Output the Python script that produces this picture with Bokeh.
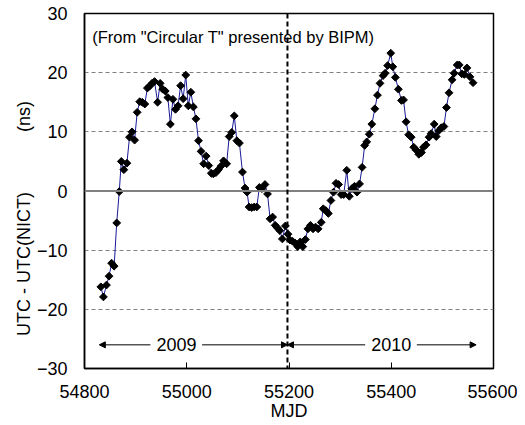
from bokeh.plotting import figure
from bokeh.models import Range1d, Span, Arrow, NormalHead, Label, FixedTicker
from bokeh.embed import file_html
from bokeh.resources import INLINE

# ---- data ----
mjd = [54832, 54837, 54843, 54848, 54853, 54858, 54863, 54868, 54872, 54877,
       54883, 54888, 54893, 54898, 54903, 54908, 54913, 54918, 54923, 54927,
       54932, 54937, 54943, 54948, 54953, 54958, 54963, 54968, 54973, 54978,
       54983, 54988, 54993, 54998, 55003, 55008, 55013, 55018, 55023, 55028,
       55033, 55038, 55043, 55048, 55052, 55057, 55062, 55067, 55072, 55078,
       55083, 55088, 55093, 55098, 55103, 55109, 55114, 55118, 55122, 55127,
       55132, 55137, 55142, 55147, 55153, 55158, 55163, 55168, 55173, 55177,
       55182, 55187, 55193, 55198, 55202, 55207, 55212, 55217, 55222, 55227,
       55232, 55237, 55242, 55247, 55252, 55257, 55263, 55267, 55272, 55277,
       55282, 55287, 55292, 55297, 55302, 55307, 55313, 55318, 55323, 55328,
       55333, 55338, 55343, 55348, 55352, 55357, 55362, 55368, 55373, 55378,
       55384, 55388, 55393, 55399, 55403, 55408, 55414, 55420, 55424, 55429,
       55434, 55439, 55444, 55449, 55454, 55459, 55463, 55468, 55474, 55478,
       55484, 55488, 55493, 55498, 55503, 55508, 55513, 55519, 55523, 55529,
       55533, 55538, 55543, 55548, 55554, 55560]
utc_diff = [-16.2, -17.9, -15.9, -14.4, -12.2, -12.7, -5.4, -0.1, 5.0, 3.6,
            4.7, 9.1, 10.0, 8.6, 13.3, 15.1, 15.0, 14.7, 17.4, 17.7,
            18.2, 18.5, 15.0, 18.2, 17.2, 16.9, 15.8, 11.3, 15.5, 13.8,
            14.4, 17.8, 15.6, 19.6, 14.4, 16.7, 14.2, 12.2, 8.5, 6.7,
            4.6, 5.9, 4.3, 3.0, 2.9, 3.1, 3.6, 4.2, 5.1, 4.6,
            9.2, 9.9, 12.7, 8.5, 8.1, 3.2, 0.5, -0.2, -2.7, -2.8,
            -2.7, -2.7, 0.6, 0.4, 1.1, -0.5, -4.7, -4.4, -5.8, -6.2,
            -6.7, -8.1, -5.9, -7.3, -8.3, -8.5, -8.8, -9.4, -8.6, -9.4,
            -8.2, -6.4, -5.8, -6.4, -6.1, -6.4, -5.3, -3.0, -3.3, -3.8,
            -1.6, -0.2, 1.3, 1.1, -0.6, -0.6, 3.5, -0.9, 0.4, 0.8,
            -0.2, 1.2, 4.0, 7.7, 8.3, 9.6, 11.3, 13.9, 16.2, 18.2,
            19.5, 19.9, 21.2, 23.3, 21.0, 19.2, 17.2, 15.3, 15.4, 11.7,
            9.5, 9.1, 7.4, 6.9, 6.2, 6.5, 7.4, 7.8, 9.1, 9.7,
            11.3, 9.2, 10.2, 10.7, 10.9, 14.1, 16.6, 18.8, 19.9, 21.3,
            21.3, 19.8, 19.7, 20.8, 19.3, 18.3]

x_ticks = [54800, 55000, 55200, 55400, 55600]
y_ticks = [-30, -20, -10, 0, 10, 20, 30]
grid_levels = [-20, -10, 10, 20]
year_boundary = 55197
year_labels = ["2009", "2010"]
year_centers = [54980, 55400]
year_spans = [(54829, 55197), (55197, 55566)]
year_text_gaps = [(54929, 55030), (55349, 55450)]
note = '(From "Circular T" presented by BIPM)'

FONT = "Liberation Sans"
NB = "\u00a0"

p = figure(width=517, height=424, output_backend="svg", toolbar_location=None,
           x_range=Range1d(54800, 55600), y_range=Range1d(-30, 30),
           min_border_left=84, min_border_right=24, min_border_top=13,
           min_border_bottom=56)
p.background_fill_color = "white"
p.border_fill_color = "white"
p.outline_line_color = "black"
p.outline_line_width = 1.5

p.xgrid.visible = False
p.ygrid.ticker = FixedTicker(ticks=grid_levels)
p.ygrid.grid_line_color = "#808080"
p.ygrid.grid_line_dash = "4 3"
p.ygrid.grid_line_width = 1

p.add_layout(Span(location=0, dimension="width", line_color="#808080", line_width=2))

for ax in (p.xaxis[0], p.yaxis[0]):
    ax.axis_line_color = "black"
    ax.axis_line_width = 1.5
    ax.major_label_text_font = FONT
    ax.major_label_text_font_size = "18px"
    ax.major_label_text_color = "black"
    ax.axis_label_text_font = FONT
    ax.axis_label_text_font_size = "18px"
    ax.axis_label_text_font_style = "normal"
    ax.axis_label_text_color = "black"
    ax.minor_tick_line_color = None

p.xaxis.ticker = FixedTicker(ticks=x_ticks)
p.xaxis.major_tick_in = 6
p.xaxis.major_tick_out = 0
p.xaxis.major_tick_line_color = "black"
p.xaxis.major_label_standoff = 16
p.xaxis.axis_label = "MJD"
p.xaxis.axis_label_standoff = 0

p.yaxis.ticker = FixedTicker(ticks=y_ticks)
p.yaxis.major_tick_in = 0
p.yaxis.major_tick_out = 0
p.yaxis.major_label_standoff = 17
p.yaxis.axis_label = "UTC - UTC(NICT)" + NB * 12 + "(ns)" + NB * 11
p.yaxis.axis_label_standoff = 0

p.add_layout(Span(location=year_boundary, dimension="height", line_color="black",
                  line_width=2, line_dash="5 3"))

p.line(mjd, utc_diff, line_color="#1a1a96", line_width=1)
p.scatter(mjd, utc_diff, marker="square", angle=0.785398, size=5.5,
          fill_color="black", line_color="black")

for lab, cx, (s0, s1), (g0, g1) in zip(year_labels, year_centers, year_spans, year_text_gaps):
    p.add_layout(Arrow(end=NormalHead(size=6, fill_color="black", line_color="black"),
                       x_start=g0, y_start=-26, x_end=s0, y_end=-26,
                       line_color="black", line_width=1))
    p.add_layout(Arrow(end=NormalHead(size=6, fill_color="black", line_color="black"),
                       x_start=g1, y_start=-26, x_end=s1, y_end=-26,
                       line_color="black", line_width=1))
    p.add_layout(Label(x=cx, y=-26, text=lab, text_align="center", text_baseline="middle",
                       text_font=FONT, text_font_size="18px", text_color="black"))

p.add_layout(Label(x=54815, y=26.1, text=note, text_align="left", text_baseline="middle",
                   text_font=FONT, text_font_size="16.5px", text_color="black"))

open("out.html", "w").write(file_html(p, INLINE))
